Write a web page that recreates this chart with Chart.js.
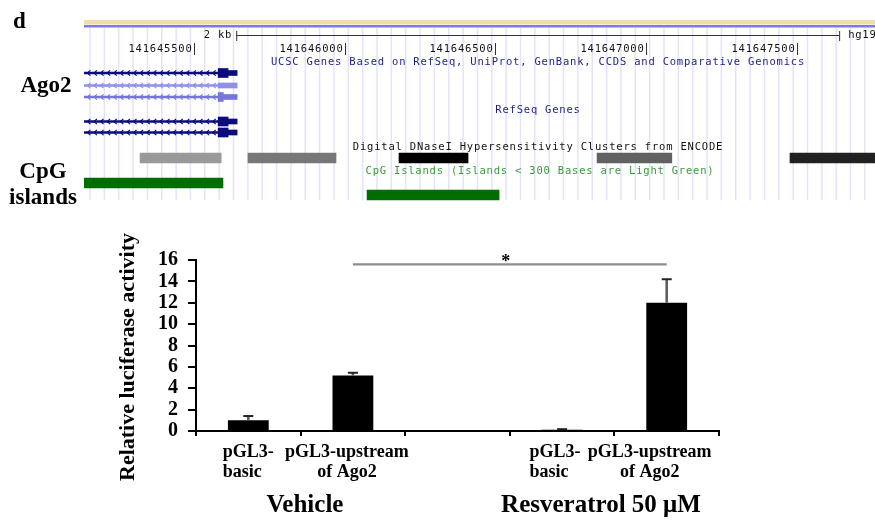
<!DOCTYPE html>
<html>
<head>
<meta charset="utf-8">
<script src="https://cdn.jsdelivr.net/npm/chart.js@4.4.1/dist/chart.umd.min.js"></script>
<style>
  html, body { margin: 0; padding: 0; background: #fff; }
  #wrap { position: relative; width: 875px; height: 529px; overflow: hidden; background: #fff; }
  #track { position: absolute; left: 0; top: 0; }
  #bars { position: absolute; left: 0; top: 210px; }
</style>
</head>
<body>
<div id="wrap">
  <canvas id="track" width="875" height="210"></canvas>
  <canvas id="bars" width="875" height="319"></canvas>
</div>
<script>
// ---- genome browser window (hg19) ----
const viewStart = 141645135;
const viewEnd = 141647759;
const rulerTicks = [141645500, 141646000, 141646500, 141647000, 141647500];
const scaleBarSpan = [141645640, 141647640];

// Ago2 transcripts (minus strand): intron run, coding block, UTR block
const txIntrons = [
  [141645000, 141645580], [141645000, 141645580], [141645000, 141645580],
  [141645000, 141645580], [141645000, 141645580]
];
const txCds = [
  [141645580, 141645613], null, [141645580, 141645597],
  [141645580, 141645613], [141645580, 141645613]
];
const txUtr = [
  [141645613, 141645643], [141645580, 141645643], [141645597, 141645643],
  [141645613, 141645643], [141645613, 141645643]
];

// DNaseI hypersensitivity clusters and their scores
const dnaseClusters = [
  [141645321, 141645590], [141645679, 141645971], [141646180, 141646409],
  [141646837, 141647085], [141647477, 141647900]
];
const dnaseScores = [400, 535, 1000, 620, 870];

// CpG islands
const cpgIslands = [[141645100, 141645596], [141646074, 141646512]];

// ---- luciferase assay ----
const categories = [["pGL3-", "basic"], ["pGL3-upstream", "of Ago2"], [""], ["pGL3-", "basic"], ["pGL3-upstream", "of Ago2"]];
const activity = [1.0, 5.2, null, 0.12, 12.0];
const activitySem = [0.4, 0.25, null, 0.05, 2.2];
const groupLabels = ["Vehicle", "Resveratrol 50 \u03bcM"];
const yTicks = { min: 0, max: 16, step: 2 };
const significance = { from: 1, to: 4, level: 15.6, mark: "*" };

// ---- layout / style (browser) ----
const txRowY = [73, 85.5, 97, 121.5, 132.5];
const txColors = ['#0c0c7c', '#9090e6', '#7676d8', '#0c0c7c', '#0c0c7c'];
const dnaseRowY = 158;
const cpgRowY = [183, 195];
const MONO = '"DejaVu Sans Mono", "Liberation Mono", monospace';
const SERIF = '"Liberation Serif", "Times New Roman", serif';

function dnaseGray(score) {
  const g = Math.round(255 * (1 - score / 1000));
  return `rgb(${g},${g},${g})`;
}

const browserDecor = {
  id: 'browserDecor',
  beforeDatasetsDraw(chart) {
    const { ctx } = chart;
    const xs = chart.scales.x;
    ctx.save();
    // guide lines
    ctx.strokeStyle = '#e3e3fb';
    ctx.lineWidth = 1.5;
    for (let gx = 90; gx < 876; gx += 14.35) {
      ctx.beginPath();
      ctx.moveTo(gx, 28);
      ctx.lineTo(gx, 200);
      ctx.stroke();
    }
    // header band + base line
    ctx.fillStyle = '#f1dcaa';
    ctx.fillRect(84, 20, 791, 4.5);
    ctx.fillStyle = '#7a7af0';
    ctx.fillRect(84, 25, 791, 2.5);

    ctx.font = `10.5px ${MONO}`;
    if ('letterSpacing' in ctx) ctx.letterSpacing = '0.8px';
    ctx.textBaseline = 'middle';

    // scale bar
    const sb0 = xs.getPixelForValue(scaleBarSpan[0]);
    const sb1 = xs.getPixelForValue(scaleBarSpan[1]);
    ctx.strokeStyle = '#333';
    ctx.lineWidth = 1;
    ctx.beginPath();
    ctx.moveTo(sb0, 35.5); ctx.lineTo(sb1, 35.5);
    ctx.moveTo(sb0 + 0.5, 31); ctx.lineTo(sb0 + 0.5, 41);
    ctx.moveTo(sb1 + 0.5, 31); ctx.lineTo(sb1 + 0.5, 41);
    ctx.stroke();
    ctx.fillStyle = '#111';
    ctx.textAlign = 'right';
    ctx.fillText('2 kb', sb0 - 4, 35.5);
    ctx.textAlign = 'left';
    ctx.fillText('hg19', sb1 + 9, 35.5);

    // base position ticks
    rulerTicks.forEach(p => {
      const px = Math.round(xs.getPixelForValue(p)) + 0.5;
      ctx.beginPath();
      ctx.moveTo(px, 43); ctx.lineTo(px, 55);
      ctx.stroke();
      ctx.textAlign = 'right';
      ctx.fillText(String(p), px - 2, 49);
    });

    // track titles
    ctx.textAlign = 'center';
    ctx.fillStyle = '#1e1e8c';
    ctx.fillText('UCSC Genes Based on RefSeq, UniProt, GenBank, CCDS and Comparative Genomics', 538, 62);
    ctx.fillText('RefSeq Genes', 538, 110.5);
    ctx.fillStyle = '#111';
    ctx.fillText('Digital DNaseI Hypersensitivity Clusters from ENCODE', 538, 147.5);
    ctx.fillStyle = '#3a983a';
    ctx.fillText('CpG Islands (Islands < 300 Bases are Light Green)', 540, 171.5);
    ctx.restore();
  },
  afterDatasetsDraw(chart) {
    const { ctx } = chart;
    ctx.save();
    // strand chevrons along introns
    const meta = chart.getDatasetMeta(0);
    meta.data.forEach((el, i) => {
      const { x, base, y } = el.getProps(['x', 'base', 'y'], true);
      const left = Math.max(Math.min(x, base), chart.chartArea.left);
      const right = Math.max(x, base);
      ctx.strokeStyle = txColors[i];
      ctx.lineWidth = 1.2;
      for (let cx = right - 4; cx > left + 2; cx -= 6.6) {
        ctx.beginPath();
        ctx.moveTo(cx + 1.6, y - 2.6);
        ctx.lineTo(cx - 1.4, y);
        ctx.lineTo(cx + 1.6, y + 2.6);
        ctx.stroke();
      }
    });
    // side labels
    ctx.fillStyle = '#000';
    ctx.textBaseline = 'alphabetic';
    ctx.font = `bold 23px ${SERIF}`;
    ctx.textAlign = 'left';
    ctx.fillText('d', 13, 28);
    ctx.textAlign = 'center';
    ctx.fillText('Ago2', 46, 92);
    ctx.fillText('CpG', 43, 178);
    ctx.fillText('islands', 43, 204);
    ctx.restore();
  }
};

const rowBars = (spans, rows) => spans.map((s, i) => s ? { x: s, y: rows[i] } : null).filter(Boolean);
const rowColors = (spans, colors) => spans.map((s, i) => s ? colors[i] : null).filter(Boolean);

new Chart(document.getElementById('track'), {
  type: 'bar',
  data: {
    datasets: [
      { data: rowBars(txIntrons, txRowY), backgroundColor: txColors, barThickness: 1.6 },
      { data: rowBars(txCds, txRowY), backgroundColor: rowColors(txCds, txColors), barThickness: 9 },
      { data: rowBars(txUtr, txRowY), backgroundColor: txColors, barThickness: 5 },
      { data: dnaseClusters.map(s => ({ x: s, y: dnaseRowY })), backgroundColor: dnaseScores.map(dnaseGray), barThickness: 10 },
      { data: cpgIslands.map((s, i) => ({ x: s, y: cpgRowY[i] })), backgroundColor: '#006d00', barThickness: 10 }
    ].map(d => Object.assign(d, { stack: 'track', borderWidth: 0, clip: 0 }))
  },
  options: {
    indexAxis: 'y',
    responsive: false,
    animation: false,
    events: [],
    layout: { padding: { left: 84, right: 0, top: 0, bottom: 0 } },
    plugins: { legend: { display: false }, tooltip: { enabled: false } },
    scales: {
      x: { type: 'linear', min: viewStart, max: viewEnd, display: false, stacked: false, offset: false },
      y: { type: 'linear', min: 0, max: 210, reverse: true, display: false, offset: false }
    }
  },
  plugins: [browserDecor]
});

// ---- bar chart ----
const labelAlign = ['left', 'center', 'center', 'left', 'center'];
const labelNudge = [0, -6, 0, -7, -17];

const assayDecor = {
  id: 'assayDecor',
  afterDatasetsDraw(chart) {
    const { ctx } = chart;
    const xs = chart.scales.x, ys = chart.scales.y;
    const meta = chart.getDatasetMeta(0);
    ctx.save();
    // error bars
    meta.data.forEach((bar, i) => {
      const v = activity[i], e = activitySem[i];
      if (v == null || e == null) return;
      const yTop = ys.getPixelForValue(v + e);
      const yBar = ys.getPixelForValue(v);
      ctx.strokeStyle = '#5a5a5a';
      ctx.lineWidth = 2.5;
      ctx.beginPath();
      ctx.moveTo(bar.x, yBar); ctx.lineTo(bar.x, yTop);
      ctx.stroke();
      ctx.strokeStyle = '#222';
      ctx.lineWidth = 2;
      ctx.beginPath();
      ctx.moveTo(bar.x - 5, yTop); ctx.lineTo(bar.x + 5, yTop);
      ctx.stroke();
    });
    // significance bracket
    const sy = ys.getPixelForValue(significance.level);
    const sx0 = xs.getPixelForValue(significance.from);
    const sx1 = xs.getPixelForValue(significance.to);
    ctx.strokeStyle = '#8c8c8c';
    ctx.lineWidth = 2.2;
    ctx.beginPath();
    ctx.moveTo(sx0, sy); ctx.lineTo(sx1, sy);
    ctx.stroke();
    ctx.fillStyle = '#000';
    ctx.font = `bold 18px ${SERIF}`;
    ctx.textAlign = 'center';
    ctx.textBaseline = 'alphabetic';
    ctx.fillText(significance.mark, (sx0 + sx1) / 2 - 4, sy + 3);
    ctx.restore();
  },
  afterDraw(chart) {
    const { ctx } = chart;
    const xs = chart.scales.x;
    const area = chart.chartArea;
    ctx.save();
    ctx.fillStyle = '#000';
    ctx.textBaseline = 'alphabetic';
    // category labels
    ctx.font = `bold 18px ${SERIF}`;
    categories.forEach((lines, i) => {
      const cx = xs.getPixelForValue(i) + labelNudge[i];
      const widths = lines.map(l => ctx.measureText(l).width);
      const blockW = Math.max(...widths);
      lines.forEach((l, k) => {
        const y = area.bottom + 26 + k * 20;
        if (labelAlign[i] === 'left') {
          ctx.textAlign = 'left';
          ctx.fillText(l, cx - blockW / 2, y);
        } else {
          ctx.textAlign = 'center';
          ctx.fillText(l, cx, y);
        }
      });
    });
    // treatment group labels
    ctx.font = `bold 25px ${SERIF}`;
    ctx.textAlign = 'center';
    ctx.fillText(groupLabels[0], 305, area.bottom + 81);
    ctx.fillText(groupLabels[1], 601, area.bottom + 81);
    // y axis title
    ctx.save();
    ctx.translate(128, area.top + 97);
    ctx.rotate(-Math.PI / 2);
    ctx.font = `bold 22px ${SERIF}`;
    ctx.textBaseline = 'middle';
    ctx.fillText('Relative luciferase activity', 0, 0);
    ctx.restore();
    ctx.restore();
  }
};

new Chart(document.getElementById('bars'), {
  type: 'bar',
  data: {
    labels: categories,
    datasets: [{
      data: activity,
      backgroundColor: '#000',
      borderWidth: 0,
      barPercentage: 0.39,
      categoryPercentage: 1.0
    }]
  },
  options: {
    responsive: false,
    animation: false,
    events: [],
    layout: { padding: { left: 100, right: 156, top: 50, bottom: 0 } },
    plugins: { legend: { display: false }, tooltip: { enabled: false } },
    scales: {
      x: {
        grid: { drawOnChartArea: false, drawTicks: true, tickLength: 5, color: '#000', lineWidth: 2, offset: true },
        border: { display: true, color: '#000', width: 2 },
        ticks: { display: false },
        afterFit(s) { s.height = 98; }
      },
      y: {
        min: yTicks.min,
        max: yTicks.max,
        ticks: {
          stepSize: yTicks.step,
          autoSkip: false,
          color: '#000',
          padding: 10,
          font: { family: SERIF, weight: 'bold', size: 20 }
        },
        grid: { drawOnChartArea: false, drawTicks: true, tickLength: 8, color: '#000', lineWidth: 2 },
        border: { display: true, color: '#000', width: 2 },
        afterFit(s) { s.width = 96; }
      }
    }
  },
  plugins: [assayDecor]
});
</script>
</body>
</html>
